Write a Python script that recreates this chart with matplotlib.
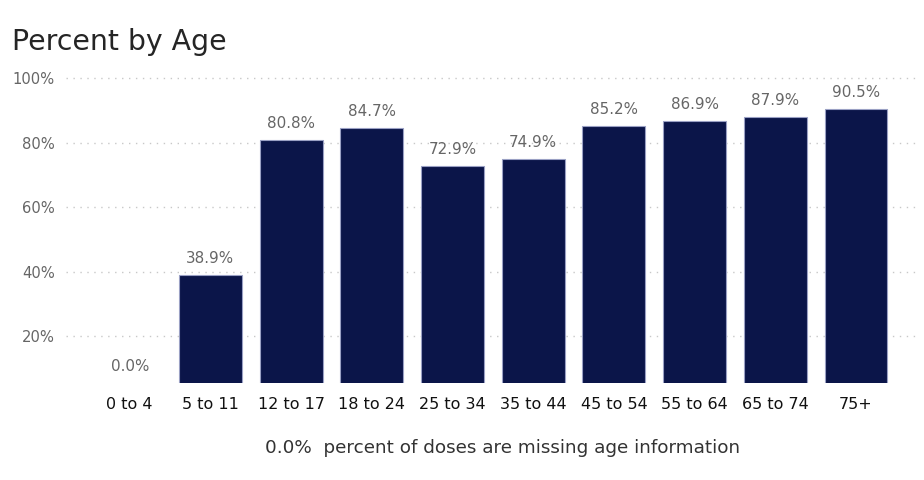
import matplotlib
matplotlib.use("Agg")
import matplotlib.pyplot as plt
from matplotlib.ticker import FuncFormatter

categories = ["0 to 4", "5 to 11", "12 to 17", "18 to 24", "25 to 34", "35 to 44",
              "45 to 54", "55 to 64", "65 to 74", "75+"]
values = [0.0, 38.9, 80.8, 84.7, 72.9, 74.9, 85.2, 86.9, 87.9, 90.5]
yticks = [20, 40, 60, 80, 100]
missing_pct = 0.0

plt.rcParams['font.family'] = ['DejaVu Sans']

fig = plt.figure(figsize=(9.24, 4.8), dpi=100)
ax = fig.add_axes([0.0714, 0.202, 0.924, 0.638])

x = list(range(len(categories)))
ax.bar(x, values, width=0.78, color="#0b1549", edgecolor="#9aa0c4", linewidth=0.8, zorder=3)
ax.set_xlim(-0.79, len(categories) - 1 + 0.79)
ax.set_ylim(5.5, 100.5)
ax.set_yticks(yticks)
ax.yaxis.set_major_formatter(FuncFormatter(lambda v, p: f"{v:.0f}%"))
ax.grid(axis="y", linestyle=(0, (1, 4)), color="#c8c8c8", linewidth=1, zorder=0)
for s in ax.spines.values():
    s.set_visible(False)
ax.tick_params(axis="both", length=0)
ax.tick_params(axis="y", labelsize=10.6, labelcolor="#666666", pad=8)
ax.set_xticks(x)
ax.set_xticklabels(categories, fontsize=11.5, color="#111111")
ax.tick_params(axis="x", pad=10)

for xi, v in zip(x, values):
    yv = max(v, 5.5)
    ax.annotate(f"{v:.1f}%", (xi, yv), xytext=(0, 6.5), textcoords="offset points",
                ha="center", va="bottom", fontsize=10.9, color="#666666")

fig.text(12 / 924, 1 - 42 / 480, "Percent by Age", fontsize=20.4, color="#252525",
         ha="left", va="center")
fig.text(503 / 924, 1 - 448 / 480, f"{missing_pct:.1f}%  percent of doses are missing age information",
         fontsize=13.2, color="#333333", ha="center", va="center")

fig.savefig("out.png", dpi=100)
